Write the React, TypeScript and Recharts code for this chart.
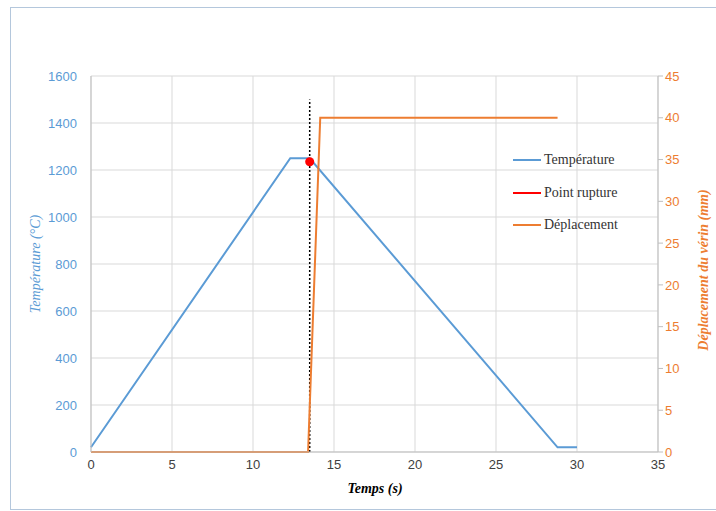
import * as React from 'react';
import {
  ComposedChart, Line, Scatter, XAxis, YAxis, CartesianGrid, ReferenceLine,
} from 'recharts';

// temps (s) -> temperature (°C)
const temperature = [
  { t: 0, v: 20 },
  { t: 12.3, v: 1250 },
  { t: 13.5, v: 1250 },
  { t: 28.8, v: 20 },
  { t: 30, v: 20 },
];

// temps (s) -> deplacement du verin (mm)
const deplacement = [
  { t: 0, v: 0 },
  { t: 13.4, v: 0 },
  { t: 14.15, v: 40 },
  { t: 28.8, v: 40 },
];

const rupture = [{ t: 13.5, v: 1235 }];
const ruptureLineTop = 1500;

const xTicks = [0, 5, 10, 15, 20, 25, 30, 35];
const leftTicks = [0, 200, 400, 600, 800, 1000, 1200, 1400, 1600];
const rightTicks = [0, 5, 10, 15, 20, 25, 30, 35, 40, 45];

const BLUE = '#5b9bd5';
const ORANGE = '#ed7d31';
const RED = '#ff0000';

const legendItems = [
  { name: 'Température', color: BLUE },
  { name: 'Point rupture', color: RED },
  { name: 'Déplacement', color: ORANGE },
];

// legend sits over the plot area, like in the excel chart
const LegendBox = () => (
  <div style={{
    position: 'absolute', left: 513, top: 144, width: 140,
    fontFamily: '"Liberation Serif", serif', fontSize: 14, color: '#333',
  }}>
    {legendItems.map((it) => (
      <div key={it.name} style={{ display: 'flex', alignItems: 'center', height: 32.5 }}>
        <span style={{ display: 'inline-block', width: 28, height: 2, background: it.color, marginRight: 3 }} />
        <span>{it.name}</span>
      </div>
    ))}
  </div>
);

const App = () => {
  return (
    <div style={{ position: 'absolute', left: 0, top: 0, width: 716, height: 511, overflow: 'hidden', background: '#fff' }}>
      <div style={{ position: 'absolute', left: 10, top: 7, width: 720, height: 501, border: '1px solid #b4c7dc' }} />
      <div style={{ position: 'absolute', left: 0, top: 0 }}>
        <ComposedChart
          width={716}
          height={511}
          margin={{ top: 76, right: 0, bottom: 29, left: 0 }}
        >
          <CartesianGrid stroke="#d9d9d9" yAxisId="left" />
          <XAxis
            dataKey="t"
            type="number"
            domain={[0, 35]}
            ticks={xTicks}
            height={30}
            tickLine={false}
            axisLine={{ stroke: '#bfbfbf' }}
            tick={{ fill: '#404040', fontSize: 13, fontFamily: '"Liberation Sans", sans-serif' }}
            label={{
              content: () => (
                <text x={375} y={493} textAnchor="middle" fontFamily='"Liberation Serif", serif'
                  fontStyle="italic" fontWeight="bold" fontSize={14} fill="#000">Temps (s)</text>
              ),
            }}
          />
          <YAxis
            yAxisId="left"
            domain={[0, 1600]}
            ticks={leftTicks}
            width={91}
            tickLine={false}
            axisLine={{ stroke: '#bfbfbf' }}
            tickMargin={8}
            tick={{ fill: BLUE, fontSize: 13, fontFamily: '"Liberation Sans", sans-serif' }}
            label={{
              content: () => (
                <text x={40} y={264} transform="rotate(-90 40 264)" textAnchor="middle"
                  fontFamily='"Liberation Serif", serif' fontStyle="italic" fontSize={14} fill={BLUE}>
                  Température (°C)
                </text>
              ),
            }}
          />
          <YAxis
            yAxisId="right"
            orientation="right"
            domain={[0, 45]}
            ticks={rightTicks}
            width={58}
            tickSize={5}
            tickLine={{ stroke: '#bfbfbf' }}
            axisLine={{ stroke: '#bfbfbf' }}
            tick={{ fill: ORANGE, fontSize: 13, fontFamily: '"Liberation Sans", sans-serif' }}
            label={{
              content: () => (
                <text x={708} y={270} transform="rotate(-90 708 270)" textAnchor="middle"
                  fontFamily='"Liberation Serif", serif' fontStyle="italic" fontWeight="bold" fontSize={14} fill={ORANGE}>
                  Déplacement du vérin (mm)
                </text>
              ),
            }}
          />
          <ReferenceLine
            yAxisId="left"
            segment={[{ x: rupture[0].t, y: 0 }, { x: rupture[0].t, y: ruptureLineTop }]}
            stroke="#000"
            strokeWidth={1.5}
            strokeDasharray="2 2"
          />
          <Line
            yAxisId="left"
            data={temperature}
            dataKey="v"
            name="Température"
            type="linear"
            stroke={BLUE}
            strokeWidth={2}
            dot={false}
            isAnimationActive={false}
          />
          <Line
            yAxisId="right"
            data={deplacement}
            dataKey="v"
            name="Déplacement"
            type="linear"
            stroke={ORANGE}
            strokeWidth={2}
            dot={false}
            isAnimationActive={false}
          />
          <Scatter
            yAxisId="left"
            data={rupture}
            dataKey="v"
            name="Point rupture"
            fill={RED}
            shape={(p: any) => <circle cx={p.cx} cy={p.cy} r={4.5} fill={RED} />}
            isAnimationActive={false}
          />
        </ComposedChart>
      </div>
      <LegendBox />
    </div>
  );
};

export default App;
